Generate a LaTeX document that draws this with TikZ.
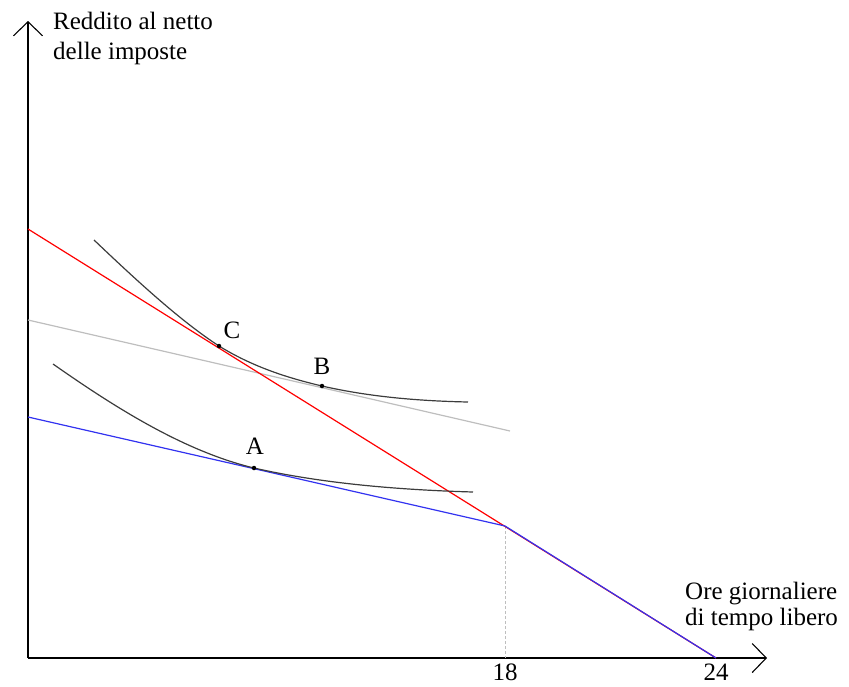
\documentclass[tikz,border=0pt]{standalone}
\usepackage{fontspec}
\setmainfont{Liberation Serif}
\usetikzlibrary{arrows.meta}
\definecolor{myblue}{RGB}{50,50,240}
\definecolor{lgray}{RGB}{190,190,190}
\definecolor{dgray}{RGB}{60,60,60}
\begin{document}
\begin{tikzpicture}[x=1pt,y=-1pt,
  axis/.style={line width=1.4pt,-{Straight Barb[length=14pt,width=29pt,line width=1.1pt]}},
  lbl/.style={font=\fontsize{25}{26}\selectfont,inner sep=0pt},
  tick/.style={lbl,anchor=base,text depth=0pt,text height=17pt},
  curve/.style={dgray,line width=1.2pt},
  pt/.style={circle,fill=black,inner sep=0pt,minimum size=4.5pt}]
\useasboundingbox (0,0) rectangle (849,686);
\coordinate (O) at (28,658);
\coordinate (Ytop) at (28,21);
\coordinate (Xend) at (767,658);
\coordinate (R0) at (28,229);
\coordinate (K) at (505,526);
\coordinate (X24) at (716,658);
\coordinate (B0) at (28,417);
\coordinate (G0) at (28,320);
\coordinate (G1) at (510,431);
\coordinate (K0) at (505,658);
% axes
\draw[axis] (O) -- (Ytop);
\draw[axis] (O) -- (Xend);
% dashed
\draw[lgray,line width=0.8pt,dash pattern=on 3pt off 2pt] (K) -- (K0);
% light gray budget line
\draw[lgray,line width=1.2pt] (G0) -- (G1);
% red
\draw[red,line width=1.2pt] (R0) -- (X24);
% blue
\draw[myblue,line width=1.2pt] (B0) -- (K) -- (X24);
% upper indifference curve
\coordinate (S1) at (94,240);
\coordinate (C) at (219,346);
\coordinate (B) at (322,386);
\coordinate (E1) at (468,402);
\draw[curve] (S1) .. controls (134,278) and (179,320) .. (C)
  .. controls (253,367) and (288,378) .. (B)
  .. controls (370,397) and (420,401) .. (E1);
% lower indifference curve
\coordinate (S2) at (53,364);
\coordinate (A) at (254,468);
\coordinate (E2) at (473,492);
\draw[curve] (S2) .. controls (113,406) and (183,451) .. (A)
  .. controls (324,484) and (403,490) .. (E2);
\node[pt] (pC) at (C) {};
\node[pt] (pB) at (B) {};
\node[pt] (pA) at (A) {};
\node[lbl] (lC) at (232,330) {C};
\node[lbl] (lB) at (322,366) {B};
\node[lbl] (lA) at (255,446) {A};
\node[tick] (l18) at (505,680) {18};
\node[tick] (l24) at (716,680) {24};
\node[lbl,anchor=base west] (ylab1) at (53,29) {Reddito al netto};
\node[lbl,anchor=base west] (ylab2) at (53,59) {delle imposte};
\node[lbl,anchor=base west] (xlab1) at (685,599) {Ore giornaliere};
\node[lbl,anchor=base west] (xlab2) at (685,625) {di tempo libero};
\end{tikzpicture}
\end{document}
